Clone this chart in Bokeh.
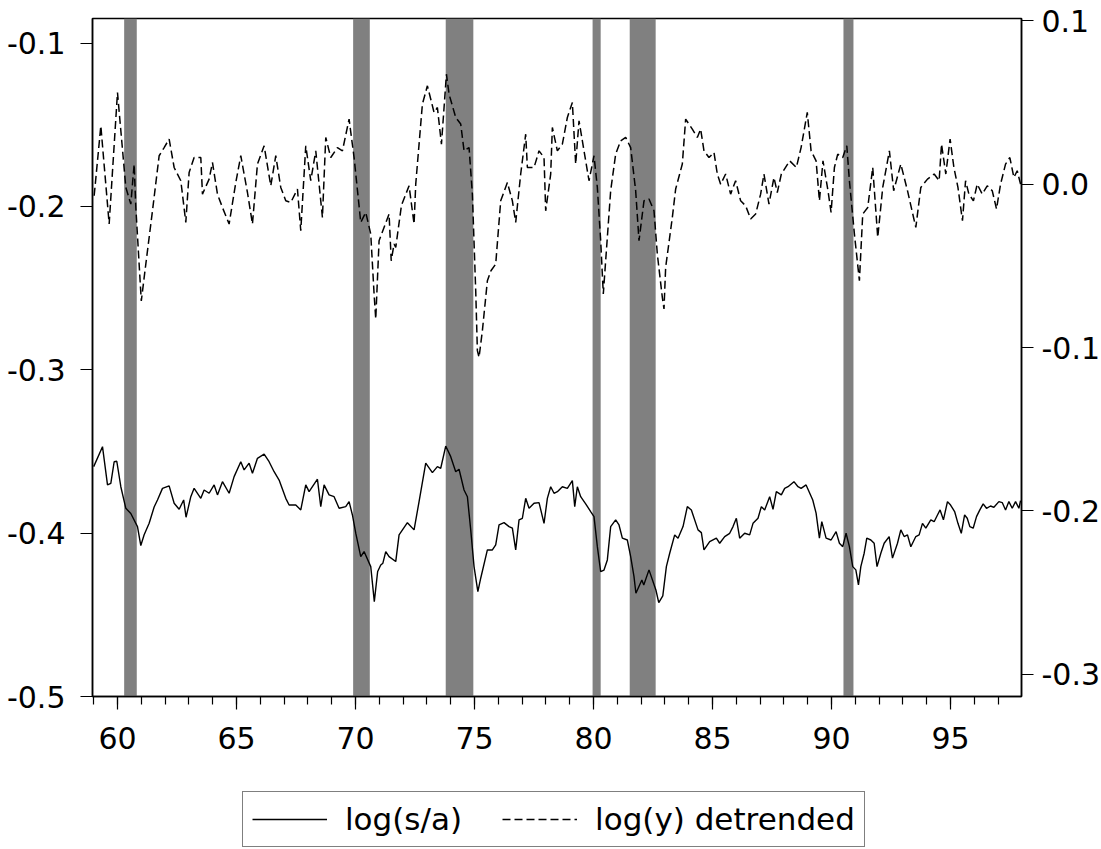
from bokeh.plotting import figure
from bokeh.layouts import column
from bokeh.models import (Range1d, LinearAxis, FixedTicker, SingleIntervalTicker,
                          PrintfTickFormatter, BoxAnnotation, Legend, LegendItem)
from bokeh.embed import file_html
from bokeh.resources import INLINE

# ---- data (years as two-digit decimals, 59.0 = Jan 1959) ----
sa_year = [59.0, 59.37, 59.58, 59.72, 59.86, 59.97, 60.14, 60.35, 60.56, 60.84, 60.98, 61.12, 61.33, 61.54,
           61.68, 61.89, 62.17, 62.38, 62.59, 62.78, 62.88, 63.08, 63.22, 63.5, 63.64, 63.85, 64.06, 64.2,
           64.41, 64.69, 64.9, 65.18, 65.32, 65.53, 65.67, 65.88, 66.16, 66.37, 66.58, 66.79, 67.07, 67.21,
           67.49, 67.7, 67.91, 68.05, 68.4, 68.54, 68.68, 68.89, 69.1, 69.31, 69.59, 69.73, 69.87, 70.01,
           70.22, 70.36, 70.64, 70.79, 70.93, 71.06, 71.15, 71.27, 71.41, 71.69, 71.83, 72.18, 72.46, 72.67,
           72.95, 73.23, 73.44, 73.58, 73.79, 74.0, 74.21, 74.35, 74.56, 74.7, 74.84, 74.98, 75.14, 75.26,
           75.54, 75.75, 75.89, 76.03, 76.24, 76.45, 76.59, 76.73, 76.87, 77.01, 77.15, 77.29, 77.5, 77.71,
           77.92, 78.06, 78.2, 78.34, 78.48, 78.69, 78.9, 79.11, 79.21, 79.32, 79.46, 79.67, 79.88, 80.02,
           80.16, 80.3, 80.44, 80.58, 80.72, 80.93, 81.07, 81.21, 81.42, 81.56, 81.7, 81.78, 82.03, 82.11,
           82.33, 82.62, 82.74, 82.91, 83.06, 83.2, 83.41, 83.55, 83.76, 83.94, 84.11, 84.39, 84.53, 84.64,
           84.88, 85.16, 85.3, 85.51, 85.72, 85.86, 86.0, 86.14, 86.35, 86.56, 86.7, 86.91, 87.05, 87.19,
           87.4, 87.54, 87.68, 87.89, 88.03, 88.17, 88.42, 88.59, 88.72, 88.93, 89.21, 89.35, 89.49, 89.59,
           89.77, 89.98, 90.19, 90.33, 90.47, 90.61, 90.75, 90.89, 91.02, 91.13, 91.23, 91.37, 91.48, 91.65,
           91.79, 91.91, 92.07, 92.21, 92.42, 92.56, 92.77, 92.91, 93.05, 93.19, 93.33, 93.54, 93.68, 93.82,
           93.96, 94.17, 94.31, 94.45, 94.56, 94.7, 94.87, 95.0, 95.17, 95.31, 95.45, 95.59, 95.7, 95.81,
           95.95, 96.09, 96.23, 96.37, 96.51, 96.68, 96.82, 97.03, 97.17, 97.31, 97.45, 97.59, 97.73, 97.87,
           97.94]
sa_value = [-0.3593, -0.3471, -0.3705, -0.3695, -0.3563, -0.356, -0.3716, -0.3848, -0.388, -0.396, -0.4076,
            -0.401, -0.394, -0.384, -0.3797, -0.3726, -0.3711, -0.3817, -0.3854, -0.3797, -0.3903, -0.3777,
            -0.3726, -0.3787, -0.3736, -0.3756, -0.3705, -0.3766, -0.3685, -0.3756, -0.3654, -0.3563, -0.3613,
            -0.3572, -0.3634, -0.3542, -0.3517, -0.3563, -0.3624, -0.3675, -0.3787, -0.3828, -0.3828, -0.3858,
            -0.3705, -0.3746, -0.367, -0.3838, -0.3705, -0.3766, -0.3777, -0.3848, -0.3838, -0.3807, -0.3889,
            -0.4, -0.4144, -0.4113, -0.4205, -0.4419, -0.4235, -0.4195, -0.4184, -0.4113, -0.4144, -0.4174,
            -0.4011, -0.3936, -0.398, -0.3807, -0.3572, -0.363, -0.3593, -0.3603, -0.3467, -0.3532, -0.3624,
            -0.3609, -0.3736, -0.3777, -0.398, -0.4205, -0.4358, -0.4276, -0.4103, -0.4103, -0.4072, -0.395,
            -0.3936, -0.396, -0.397, -0.4103, -0.3919, -0.3909, -0.3787, -0.3848, -0.3817, -0.3813, -0.394,
            -0.3787, -0.3716, -0.3756, -0.3746, -0.3716, -0.3726, -0.3679, -0.3838, -0.3716, -0.3777, -0.3821,
            -0.3868, -0.3899, -0.4083, -0.4236, -0.4226, -0.4164, -0.396, -0.3919, -0.395, -0.4031, -0.4042,
            -0.4144, -0.4266, -0.4368, -0.4287, -0.4317, -0.4225, -0.4348, -0.4425, -0.4384, -0.4205, -0.4123,
            -0.4011, -0.4031, -0.396, -0.3838, -0.3858, -0.398, -0.3997, -0.4103, -0.4052, -0.4031, -0.4062,
            -0.4021, -0.4001, -0.396, -0.3909, -0.4031, -0.4001, -0.4011, -0.394, -0.3909, -0.3838, -0.3858,
            -0.3777, -0.3854, -0.3746, -0.3766, -0.3726, -0.3716, -0.3685, -0.3716, -0.3726, -0.3705, -0.3797,
            -0.3878, -0.4031, -0.393, -0.4031, -0.4042, -0.3991, -0.4062, -0.4083, -0.4001, -0.4083, -0.4205,
            -0.4225, -0.4317, -0.4205, -0.4123, -0.4031, -0.4042, -0.4062, -0.4205, -0.4123, -0.4062, -0.4021,
            -0.4153, -0.4062, -0.398, -0.4021, -0.4011, -0.4083, -0.4021, -0.4011, -0.394, -0.397, -0.3919,
            -0.393, -0.3889, -0.3858, -0.3919, -0.3807, -0.3828, -0.3868, -0.394, -0.4001, -0.3889, -0.3909,
            -0.396, -0.397, -0.3899, -0.3858, -0.3821, -0.3848, -0.3834, -0.3842, -0.3807, -0.3813, -0.3858,
            -0.3807, -0.3848, -0.3807, -0.3848, -0.3801]

yd_year = [59.02, 59.3, 59.65, 60.0, 60.35, 60.56, 60.7, 60.77, 61.0, 61.19, 61.47, 61.75, 61.96, 62.17,
           62.38, 62.66, 62.87, 63.01, 63.22, 63.5, 63.57, 63.85, 63.99, 64.2, 64.41, 64.69, 64.97, 65.18,
           65.46, 65.67, 65.88, 66.16, 66.44, 66.65, 66.86, 67.07, 67.28, 67.56, 67.7, 67.91, 68.12, 68.33,
           68.61, 68.75, 68.96, 69.24, 69.45, 69.73, 69.94, 70.22, 70.43, 70.64, 70.78, 70.85, 70.99, 71.41,
           71.5, 71.62, 71.69, 71.93, 72.25, 72.46, 72.53, 72.81, 73.02, 73.3, 73.44, 73.61, 73.82, 73.93,
           74.21, 74.42, 74.56, 74.77, 74.91, 75.05, 75.12, 75.19, 75.33, 75.54, 75.69, 75.89, 76.1, 76.38,
           76.59, 76.73, 76.94, 77.15, 77.22, 77.5, 77.71, 77.92, 77.99, 78.2, 78.27, 78.48, 78.69, 78.9,
           79.11, 79.25, 79.39, 79.6, 79.81, 80.02, 80.16, 80.3, 80.41, 80.72, 80.93, 81.14, 81.35, 81.56,
           81.77, 81.91, 82.12, 82.33, 82.54, 82.68, 82.89, 82.96, 83.03, 83.31, 83.45, 83.73, 83.87, 84.15,
           84.36, 84.5, 84.64, 84.85, 85.06, 85.2, 85.34, 85.55, 85.76, 85.97, 86.18, 86.39, 86.6, 86.81,
           87.02, 87.16, 87.37, 87.58, 87.72, 87.89, 88.24, 88.52, 88.72, 88.98, 89.14, 89.35, 89.49, 89.64,
           89.85, 89.98, 90.12, 90.26, 90.47, 90.64, 90.75, 90.96, 91.17, 91.31, 91.52, 91.73, 91.94, 92.15,
           92.43, 92.61, 92.91, 93.19, 93.54, 93.75, 94.03, 94.31, 94.52, 94.62, 94.8, 94.98, 95.14, 95.31,
           95.5, 95.63, 95.77, 95.96, 96.12, 96.33, 96.54, 96.75, 96.93, 97.1, 97.31, 97.49, 97.66, 97.8,
           97.94]
yd_value = [-0.0071, 0.0357, -0.0244, 0.0561, -0.002, -0.0122, 0.0123, -0.0143, -0.0715, -0.0489, -0.0163,
            0.0174, 0.0224, 0.0276, 0.0102, 0.0021, -0.0234, 0.0072, 0.0163, 0.0163, -0.0061, 0.0031, 0.0133,
            -0.0061, -0.0143, -0.0244, 0.001, 0.0174, -0.0051, -0.0244, 0.0123, 0.0235, -0.001, 0.0174, -0.002,
            -0.0102, -0.0112, -0.003, -0.0285, 0.0235, 0.0021, 0.0204, -0.0204, 0.0286, 0.0163, 0.0224, 0.0204,
            0.0398, 0.0163, -0.0234, -0.0173, -0.0305, -0.0672, -0.0825, -0.0346, -0.0183, -0.0469, -0.0366,
            -0.0387, -0.013, -0.001, -0.0244, 0.0, 0.049, 0.0602, 0.0439, 0.0469, 0.0245, 0.0673, 0.0551,
            0.0408, 0.0368, 0.0204, 0.0224, -0.0061, -0.0652, -0.1019, -0.106, -0.0897, -0.0591, -0.053,
            -0.0489, -0.0102, 0.001, -0.0102, -0.0234, 0.0062, 0.0306, 0.0102, 0.0102, 0.0204, 0.0163, -0.0163,
            0.0062, 0.0347, 0.0204, 0.0245, 0.0408, 0.05, 0.0123, 0.0388, 0.0204, 0.0021, 0.0174, -0.002,
            -0.0346, -0.0672, -0.004, 0.0184, 0.0265, 0.0286, 0.0224, -0.004, -0.0346, -0.0102, -0.0091,
            -0.0163, -0.0428, -0.0693, -0.0764, -0.0509, -0.0204, -0.003, 0.0123, 0.0398, 0.0337, 0.0286,
            0.0337, 0.0204, 0.0163, 0.0194, 0.0062, 0.0, 0.0062, -0.0061, 0.0021, -0.0102, -0.0132, -0.0213,
            -0.0183, -0.0061, 0.0062, -0.0122, 0.0041, -0.0051, 0.0062, 0.0143, 0.0102, 0.0224, 0.0439, 0.0204,
            0.0143, -0.0102, 0.0143, -0.004, -0.0173, 0.0102, 0.0184, 0.0163, 0.0235, 0.0021, -0.0305, -0.0591,
            -0.0183, -0.0143, 0.0102, -0.0326, -0.002, 0.0204, -0.004, 0.0123, -0.004, -0.0265, -0.002, 0.0031,
            0.0062, 0.0021, 0.0245, 0.0062, 0.0276, 0.0102, -0.002, -0.0224, 0.0021, -0.0061, -0.0102, 0.0,
            -0.0061, -0.001, -0.004, -0.0152, 0.0, 0.0123, 0.0163, 0.0041, 0.0082, 0.0]

recession_start = [60.28, 69.9, 73.79, 79.96, 81.52, 90.5]
recession_end = [60.81, 70.6, 74.95, 80.3, 82.61, 90.92]

left_ticks = [-0.5, -0.4, -0.3, -0.2, -0.1]
right_ticks = [-0.3, -0.2, -0.1, 0.0, 0.1]
series_labels = ["log(s/a)", "log(y) detrended"]

FONT = "DejaVu Sans"
SOLID = dict(line_color="black", line_width=1.4)
DASHED = dict(line_color="black", line_width=1.5, line_dash="8 4")

# ---- main chart ----
p = figure(frame_width=929, frame_height=678, output_backend="svg", toolbar_location=None,
           x_range=Range1d(58.95, 97.98), y_range=Range1d(-0.5, -0.085),
           min_border_left=92, min_border_top=18, min_border_right=10, min_border_bottom=80)
p.background_fill_color = "white"
p.border_fill_color = "white"
p.outline_line_color = "black"
p.outline_line_width = 1.5
p.xgrid.visible = False
p.ygrid.visible = False
p.extra_y_ranges = {"right": Range1d(-0.3136, 0.1014)}

for s, e in zip(recession_start, recession_end):
    p.add_layout(BoxAnnotation(left=s, right=e, fill_color="#808080", fill_alpha=1.0,
                               line_alpha=0, level="underlay"))

p.line(sa_year, sa_value, **SOLID)
p.line(yd_year, yd_value, y_range_name="right", **DASHED)

xa = p.xaxis[0]
xa.ticker = SingleIntervalTicker(interval=5, num_minor_ticks=5)
xa.major_tick_out = 13
xa.major_tick_in = 0
xa.minor_tick_out = 8
xa.minor_tick_in = 0
xa.major_label_standoff = 17

ya = p.yaxis[0]
ya.ticker = FixedTicker(ticks=left_ticks)
ya.formatter = PrintfTickFormatter(format="%.1f")
ya.major_label_standoff = 15

ra = LinearAxis(y_range_name="right", ticker=FixedTicker(ticks=right_ticks),
                formatter=PrintfTickFormatter(format="%.1f"))
ra.major_label_standoff = 8
p.add_layout(ra, "right")

for ax in [xa, ya, ra]:
    ax.axis_line_color = "black"
    ax.axis_line_width = 1.5
    ax.major_tick_line_color = "black"
    ax.major_tick_line_width = 1.2
    ax.minor_tick_line_color = "black"
    ax.minor_tick_line_width = 1.2
    ax.major_label_text_font = FONT
    ax.major_label_text_font_size = "30px"
    ax.major_label_text_color = "black"
for ax in [ya, ra]:
    ax.major_tick_out = 12
    ax.major_tick_in = 0
    ax.minor_tick_line_color = None

# ---- legend strip below the chart ----
q = figure(width=1090, height=73, output_backend="svg", toolbar_location=None,
           x_range=Range1d(0, 1), y_range=Range1d(0, 1), min_border=0,
           x_axis_location=None, y_axis_location=None)
q.outline_line_color = None
q.xgrid.visible = False
q.ygrid.visible = False
q.background_fill_color = "white"
q.border_fill_color = "white"
nan = float("nan")
k1 = q.line(x=[nan], y=[nan], **SOLID)
k2 = q.line(x=[nan], y=[nan], **DASHED)

legend = Legend(items=[LegendItem(label=series_labels[0], renderers=[k1]),
                       LegendItem(label=series_labels[1], renderers=[k2])],
                orientation="horizontal", location=(150, 2),
                label_text_font=FONT, label_text_font_size="31px", label_text_color="black",
                glyph_width=75, label_standoff=18, spacing=40, padding=9,
                border_line_color="black", border_line_width=1.5,
                background_fill_color="white", background_fill_alpha=1.0)
q.add_layout(legend, "center")

layout = column(p, q, spacing=0)
open("out.html", "w").write(file_html(layout, INLINE))
